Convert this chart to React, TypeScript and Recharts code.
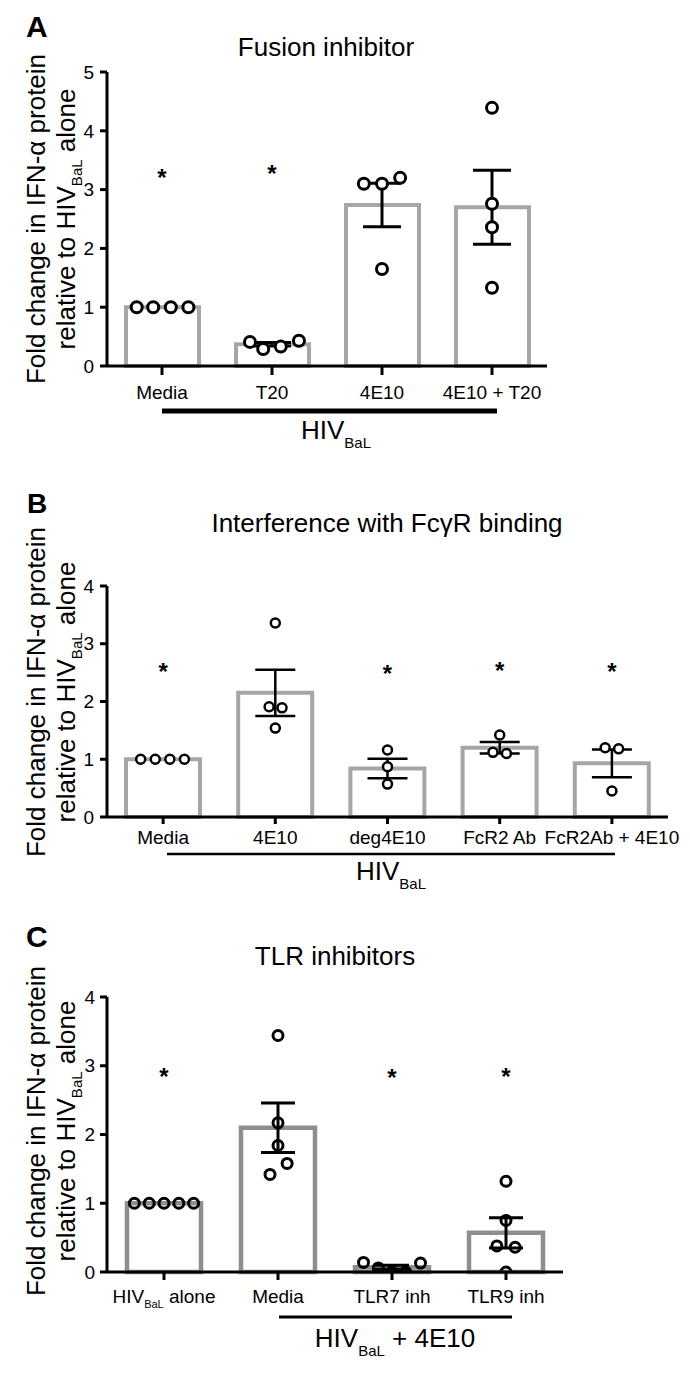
import React from 'react';
import { ComposedChart, Bar, Scatter, XAxis, YAxis, ErrorBar } from 'recharts';

const FONT = '"Liberation Sans", Arial, Helvetica, sans-serif';

// A - fusion inhibitor
const catsA = ['Media', 'T20', '4E10', '4E10 + T20'];
const meanA = [1.0, 0.37, 2.74, 2.7];
const semA = [null, 0.03, 0.37, 0.63];
// [group, horizontal jitter (category units), value]
const ptsA: [number, number, number][] = [
  [0, -0.23, 1.0], [0, -0.08, 1.0], [0, 0.08, 1.0], [0, 0.24, 1.0],
  [1, -0.2, 0.41], [1, -0.08, 0.29], [1, 0.08, 0.33], [1, 0.245, 0.43],
  [2, -0.165, 3.1], [2, 0, 3.1], [2, 0.165, 3.2], [2, 0, 1.65],
  [3, 0, 4.39], [3, 0, 2.76], [3, 0, 2.36], [3, 0, 1.33],
];
const starsA: [number, number][] = [[0, 3.28], [1, 3.35]];

// B - interference with FcgR binding
const catsB = ['Media', '4E10', 'deg4E10', 'FcR2 Ab', 'FcR2Ab + 4E10'];
const meanB = [1.0, 2.15, 0.84, 1.2, 0.93];
const semB = [null, 0.4, 0.17, 0.1, 0.24];
const ptsB: [number, number, number][] = [
  [0, -0.2, 1.0], [0, -0.07, 1.0], [0, 0.06, 1.0], [0, 0.19, 1.0],
  [1, 0, 3.36], [1, -0.055, 1.91], [1, 0.06, 1.89], [1, 0, 1.54],
  [2, 0, 1.16], [2, 0, 0.87], [2, 0, 0.57],
  [3, 0, 1.42], [3, -0.06, 1.12], [3, 0.06, 1.1],
  [4, -0.06, 1.2], [4, 0.06, 1.18], [4, 0, 0.45],
];
const starsB: [number, number][] = [[0, 2.6], [2, 2.56], [3, 2.61], [4, 2.6]];

// C - TLR inhibitors
const catsC = ['HIV_BaL alone', 'Media', 'TLR7 inh', 'TLR9 inh'];
const meanC = [1.0, 2.1, 0.07, 0.57];
const semC = [null, 0.36, 0.03, 0.22];
const ptsC: [number, number, number][] = [
  [0, -0.26, 1.0], [0, -0.13, 1.0], [0, 0, 1.0], [0, 0.13, 1.0], [0, 0.26, 1.0],
  [1, 0, 3.44], [1, 0, 2.17], [1, 0, 1.84], [1, -0.07, 1.42], [1, 0.08, 1.58],
  [2, -0.25, 0.14], [2, -0.12, 0.06], [2, 0, 0.0], [2, 0.12, 0.0], [2, 0.25, 0.13],
  [3, 0, 1.32], [3, 0, 0.75], [3, -0.08, 0.38], [3, 0.08, 0.36], [3, 0, 0.0],
];
const starsC: [number, number][] = [[0, 2.91], [2, 2.9], [3, 2.91]];

const subParts = (s: string) => /^(.*?)_(\S+)(.*)$/.exec(s);

const CatTick = (props: any) => {
  const { x, y, payload } = props;
  const m = subParts(String(payload.value));
  return (
    <text x={x} y={y} dy={13.5} textAnchor="middle" fontSize={19} fontFamily={FONT} fill="#000">
      {m ? (
        <>
          {m[1]}
          <tspan fontSize={11} dy={5}>{m[2]}</tspan>
          <tspan dy={-5}>{m[3]}</tspan>
        </>
      ) : payload.value}
    </text>
  );
};

type PanelProps = {
  top: number; height: number; margin: any;
  cats: string[]; mean: number[]; sem: (number | null)[];
  pts: [number, number, number][]; stars: [number, number][];
  yMax: number;
  barSize: number; barStroke: string; barWidth: number;
  r: number; ptStrokeW: number; ptFill: string;
  errW: number; errStroke: number;
  xTick: [number, number]; yTick: [number, number];
  letter: string; letterPos: [number, number]; letterSize: number;
  title: string; titlePos: [number, number];
  labelCy: number;
  bracket: [number, number, number, number];
  group: { cx: number; y: number; rest: string };
};

const Panel = (p: PanelProps) => {
  const n = p.cats.length;
  const barData = p.cats.map((c, i) => ({ name: c, mean: p.mean[i] }));
  const ptData = p.pts.map(([g, dx, v]) => ({ x: g + dx, y: v }));
  const errData = p.mean
    .map((m, i) => (p.sem[i] == null ? null : { x: i, y: m, err: p.sem[i] }))
    .filter(Boolean) as any[];
  const starData = p.stars.map(([g, v]) => ({ x: g, y: v }));
  const yTicks = Array.from({ length: p.yMax + 1 }, (_, i) => i);
  const axisStyle = { stroke: '#000', strokeWidth: 3 };

  return (
    <div style={{ position: 'absolute', left: 0, top: p.top, width: 690, height: p.height }}>
      <ComposedChart width={690} height={p.height} margin={p.margin} data={barData}>
        <XAxis
          xAxisId="c"
          dataKey="name"
          type="category"
          interval={0}
          height={30}
          tick={<CatTick />}
          tickSize={p.xTick[0]}
          tickMargin={p.xTick[1]}
          axisLine={axisStyle}
          tickLine={axisStyle}
        />
        <XAxis xAxisId="n" type="number" dataKey="x" domain={[-0.5, n - 0.5]} allowDataOverflow hide height={0} />
        <YAxis yAxisId="p" type="number" dataKey="y" domain={[0, p.yMax]} allowDataOverflow hide width={0} />
        <YAxis
          yAxisId="v"
          type="number"
          domain={[0, p.yMax]}
          ticks={yTicks}
          interval={0}
          width={40}
          tickSize={p.yTick[0]}
          tickMargin={p.yTick[1]}
          axisLine={axisStyle}
          tickLine={axisStyle}
          tick={{ fill: '#000', fontSize: 19, fontFamily: FONT }}
        />
        <Bar
          xAxisId="c"
          yAxisId="v"
          dataKey="mean"
          barSize={p.barSize}
          fill="#fff"
          stroke={p.barStroke}
          strokeWidth={p.barWidth}
          isAnimationActive={false}
        />
        <Scatter
          xAxisId="n"
          yAxisId="p"
          data={ptData}
          dataKey="y"
          isAnimationActive={false}
          shape={(s: any) => (
            <circle cx={s.cx} cy={s.cy} r={p.r} fill={p.ptFill} stroke="#000" strokeWidth={p.ptStrokeW} />
          )}
        />
        <Scatter
          xAxisId="n"
          yAxisId="p"
          data={errData}
          dataKey="y"
          isAnimationActive={false}
          shape={() => <g />}
        >
          <ErrorBar dataKey="err" direction="y" width={p.errW} stroke="#000" strokeWidth={p.errStroke} />
        </Scatter>
        <Scatter
          xAxisId="n"
          yAxisId="p"
          data={starData}
          dataKey="y"
          isAnimationActive={false}
          shape={(s: any) => (
            <text x={s.cx} y={s.cy} dy={13} textAnchor="middle" fontSize={24} fontWeight="bold" fontFamily={FONT} fill="#000">
              *
            </text>
          )}
        />
      </ComposedChart>
      <svg
        width={690}
        height={p.height}
        style={{ position: 'absolute', left: 0, top: 0, pointerEvents: 'none' }}
        fontFamily={FONT}
      >
        <text x={p.letterPos[0]} y={p.letterPos[1]} fontSize={p.letterSize} fontWeight="bold">{p.letter}</text>
        <text x={p.titlePos[0]} y={p.titlePos[1]} fontSize={26} textAnchor="middle">{p.title}</text>
        <text transform={`translate(45,${p.labelCy}) rotate(-90)`} fontSize={26} textAnchor="middle">
          Fold change in IFN-α protein
        </text>
        <text transform={`translate(75,${p.labelCy}) rotate(-90)`} fontSize={26} textAnchor="middle">
          relative to HIV<tspan fontSize={15} dy={7}>BaL</tspan><tspan dy={-7}> alone</tspan>
        </text>
        <line x1={p.bracket[0]} x2={p.bracket[1]} y1={p.bracket[2]} y2={p.bracket[2]} stroke="#000" strokeWidth={p.bracket[3]} />
        <text x={p.group.cx} y={p.group.y} fontSize={26} textAnchor="middle">
          HIV<tspan fontSize={15} dy={9}>BaL</tspan>
          {p.group.rest ? <tspan dy={-9}>{p.group.rest}</tspan> : null}
        </text>
      </svg>
    </div>
  );
};

export default function App() {
  return (
    <div style={{ position: 'absolute', left: 0, top: 0, width: 690, height: 1374, background: '#fff' }}>
      <Panel
        top={0} height={450} margin={{ top: 72, right: 143, bottom: 54, left: 67 }}
        cats={catsA} mean={meanA} sem={semA} pts={ptsA} stars={starsA} yMax={5}
        barSize={73} barStroke="#a6a6a6" barWidth={4}
        r={5.5} ptStrokeW={3} ptFill="#fff" errW={19} errStroke={3}
        xTick={[9, 10]} yTick={[7, 6]}
        letter="A" letterPos={[26, 37]} letterSize={30}
        title="Fusion inhibitor" titlePos={[326, 56]} labelCy={219}
        bracket={[162, 497, 411, 5]} group={{ cx: 336, y: 439, rest: '' }}
      />
      <Panel
        top={450} height={450} margin={{ top: 136, right: 22, bottom: 53, left: 67 }}
        cats={catsB} mean={meanB} sem={semB} pts={ptsB} stars={starsB} yMax={4}
        barSize={74} barStroke="#a6a6a6" barWidth={4}
        r={4.5} ptStrokeW={2.5} ptFill="#fff" errW={20} errStroke={2.5}
        xTick={[7, 6]} yTick={[7, 6]}
        letter="B" letterPos={[27, 63]} letterSize={28}
        title="Interference with FcγR binding" titlePos={[387, 82]} labelCy={242}
        bracket={[167, 615, 404, 2.5]} group={{ cx: 391, y: 430, rest: '' }}
      />
      <Panel
        top={900} height={474} margin={{ top: 97, right: 127, bottom: 72, left: 67 }}
        cats={catsC} mean={meanC} sem={semC} pts={ptsC} stars={starsC} yMax={4}
        barSize={74} barStroke="#8e8e8e" barWidth={4.5}
        r={5} ptStrokeW={3} ptFill="none" errW={17} errStroke={3}
        xTick={[8, 9]} yTick={[7, 5]}
        letter="C" letterPos={[26, 47]} letterSize={30}
        title="TLR inhibitors" titlePos={[335, 65]} labelCy={231}
        bracket={[279, 512, 417, 3]} group={{ cx: 395, y: 447, rest: ' + 4E10' }}
      />
    </div>
  );
}
